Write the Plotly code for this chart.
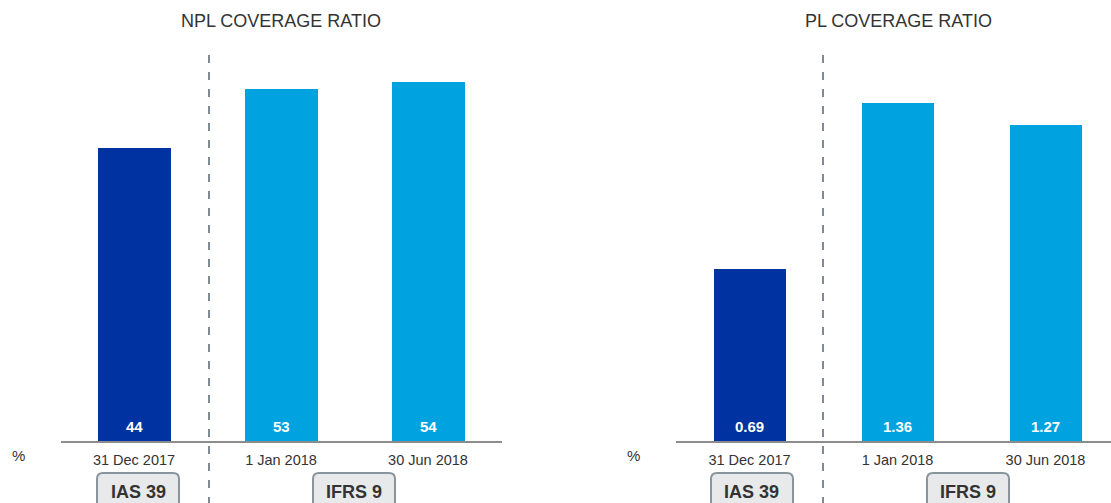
import plotly.graph_objects as go

W, H = 1111, 503

# Data
dates = ["31 Dec 2017", "1 Jan 2018", "30 Jun 2018"]
npl_coverage = [44, 53, 54]
pl_coverage = [0.69, 1.36, 1.27]
npl_labels = ["44", "53", "54"]
pl_labels = ["0.69", "1.36", "1.27"]
standards = ["IAS 39", "IFRS 9"]

DARK_BLUE = "#0033A1"
LIGHT_BLUE = "#00A3E0"
bar_colors = [DARK_BLUE, LIGHT_BLUE, LIGHT_BLUE]
TEXT = "#333333"
FONT = "Liberation Sans, Arial, sans-serif"


def px(x):
    return x / W


def py(y):
    return 1 - y / H


fig = go.Figure()

fig.add_trace(go.Bar(
    x=dates, y=npl_coverage, marker_color=bar_colors,
    marker_line_width=0, width=0.49,
    xaxis="x", yaxis="y", showlegend=False, hoverinfo="skip",
))
fig.add_trace(go.Bar(
    x=dates, y=pl_coverage, marker_color=bar_colors,
    marker_line_width=0, width=0.49,
    xaxis="x2", yaxis="y2", showlegend=False, hoverinfo="skip",
))

base_y = 441
ydom = [py(base_y), 1]
axis_common = dict(
    type="category", showgrid=False, zeroline=False, showline=True,
    linecolor="#8c8c8c", linewidth=2, ticks="", ticklabelstandoff=5,
    tickfont=dict(size=14.5, color=TEXT, family=FONT),
    fixedrange=True,
)
fig.update_layout(
    width=W, height=H, margin=dict(l=0, r=0, t=0, b=0),
    plot_bgcolor="white", paper_bgcolor="white",
    bargap=0,
    xaxis=dict(domain=[px(60.5), px(501.5)], range=[-0.5, 2.5], anchor="y", **axis_common),
    xaxis2=dict(domain=[px(675.5), 1], range=[-0.5, -0.5 + 435.5 / 148], anchor="y2", **axis_common),
    yaxis=dict(domain=ydom, range=[0, 441 / 6.65], visible=False, fixedrange=True),
    yaxis2=dict(domain=ydom, range=[0, 441 / 248.8], visible=False, fixedrange=True),
    font=dict(family=FONT, color=TEXT),
)

annotations = []
# Value labels at the foot of each bar
for xa, ya, labels in [("x", "y", npl_labels), ("x2", "y2", pl_labels)]:
    for d, lab in zip(dates, labels):
        annotations.append(dict(
            text=f"<b>{lab}</b>", x=d, y=0, xref=xa, yref=ya,
            showarrow=False, yanchor="bottom", xanchor="center", yshift=4,
            font=dict(size=15, color="white", family=FONT),
        ))
# Chart titles
for title, cx in [("NPL COVERAGE RATIO", 281), ("PL COVERAGE RATIO", 898)]:
    annotations.append(dict(
        text=title, x=px(cx), y=py(21), xref="paper", yref="paper",
        showarrow=False, font=dict(size=18, color=TEXT, family=FONT),
        xanchor="center", yanchor="middle",
    ))
# Unit markers
for ux in [18, 633]:
    annotations.append(dict(
        text="%", x=px(ux), y=py(455), xref="paper", yref="paper",
        showarrow=False, font=dict(size=15, color=TEXT, family=FONT),
        xanchor="center", yanchor="middle",
    ))

shapes = []
# Dashed separators between accounting standards
for sx in [209, 823]:
    shapes.append(dict(
        type="line", xref="paper", yref="paper",
        x0=px(sx), x1=px(sx), y0=py(55), y1=py(H + 5),
        line=dict(color="#7f8a92", width=2, dash="8px,9px"),
    ))


def rounded_box(x0, y0, x1, y1, r=6):
    # Rounded rectangle path in paper coordinates
    def P(x, y):
        return f"{px(x):.5f},{py(y):.5f}"
    return (
        f"M {P(x0 + r, y0)} L {P(x1 - r, y0)} Q {P(x1, y0)} {P(x1, y0 + r)} "
        f"L {P(x1, y1 - r)} Q {P(x1, y1)} {P(x1 - r, y1)} "
        f"L {P(x0 + r, y1)} Q {P(x0, y1)} {P(x0, y1 - r)} "
        f"L {P(x0, y0 + r)} Q {P(x0, y0)} {P(x0 + r, y0)} Z"
    )


box_positions = [
    (97, 179, standards[0]), (313, 395, standards[1]),
    (711, 793, standards[0]), (927, 1009, standards[1]),
]
for bx0, bx1, label in box_positions:
    shapes.append(dict(
        type="path", xref="paper", yref="paper",
        path=rounded_box(bx0, 473, bx1, 515),
        fillcolor="#e8e9ea", line=dict(color="#8a949b", width=2),
    ))
    annotations.append(dict(
        text=f"<b>{label}</b>", x=px((bx0 + bx1) / 2), y=py(492),
        xref="paper", yref="paper", showarrow=False,
        font=dict(size=18, color=TEXT, family=FONT),
        xanchor="center", yanchor="middle",
    ))

fig.update_layout(annotations=annotations, shapes=shapes)

fig.write_html("out.html")
